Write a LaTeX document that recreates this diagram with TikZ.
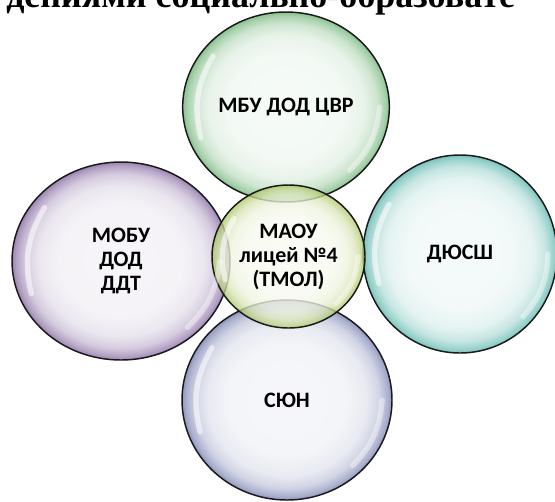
\documentclass[tikz,border=0pt]{standalone}
\usepackage{fontspec}
\setmainfont{Carlito}
\newfontfamily\titlefont{Liberation Serif}
\usetikzlibrary{shapes.geometric,calc}

\definecolor{cvrgreen}{RGB}{104,176,112}
\definecolor{ddtviolet}{RGB}{128,98,156}
\definecolor{dyusshteal}{RGB}{82,178,168}
\definecolor{syunblue}{RGB}{112,122,172}
\definecolor{maouolive}{RGB}{170,196,96}
\colorlet{bubrim}{gray}
\pgfdeclareradialshading[bubrim]{bubble}{\pgfpoint{0bp}{0bp}}{color(0bp)=(bubrim!8!white); color(14bp)=(bubrim!10!white); color(19bp)=(bubrim!20!white); color(22bp)=(bubrim!42!white); color(24bp)=(bubrim!75!white); color(25bp)=(bubrim); color(50bp)=(bubrim)}

\begin{document}
\begin{tikzpicture}[x=0.75pt, y=-0.75pt,
	bubble/.style={ellipse, draw=black!90, line width=1.1pt, shade, shading=bubble, fill opacity=0.78, text opacity=1, inner sep=0pt, align=center, font=\bfseries\fontsize{16.5}{18}\selectfont},
	rim/.code={\colorlet{bubrim}{#1}},
	gloss/.style={white, line width=4pt, line cap=round, opacity=0.55}]
	\useasboundingbox (0,0) rectangle (555,501);
	\node[anchor=base west, inner sep=0pt, font=\titlefont\bfseries\fontsize{27}{30}\selectfont] (title) at (6,7) {дениями социально-образовате};

	\node[bubble, rim=cvrgreen, minimum width=155pt, minimum height=142.5pt] (cvr) at (286,107) {МБУ ДОД ЦВР};
	\node[bubble, rim=ddtviolet, minimum width=163.5pt, minimum height=148.5pt] (ddt) at (121,261) {МОБУ\\ДОД\\ДДТ};
	\node[bubble, rim=dyusshteal, minimum width=145.5pt, minimum height=148.5pt] (dyussh) at (460,254) {ДЮСШ};
	\node[bubble, rim=syunblue, minimum width=157.5pt, minimum height=150pt] (syun) at (287,400) {СЮН};
	\node[bubble, rim=maouolive, minimum width=114.75pt, minimum height=107.25pt] (maou) at (288.5,256.5) {МАОУ\\лицей №4\\(ТМОЛ)};

	\foreach \b in {cvr,ddt,dyussh,syun,maou}{
		\draw[gloss] ($(\b.center)!0.88!(\b.145)$) to[bend right=22] ($(\b.center)!0.88!(\b.200)$);
		\draw[gloss, opacity=0.4] ($(\b.center)!0.9!(\b.-45)$) to[bend right=20] ($(\b.center)!0.9!(\b.0)$);
	}
\end{tikzpicture}
\end{document}
